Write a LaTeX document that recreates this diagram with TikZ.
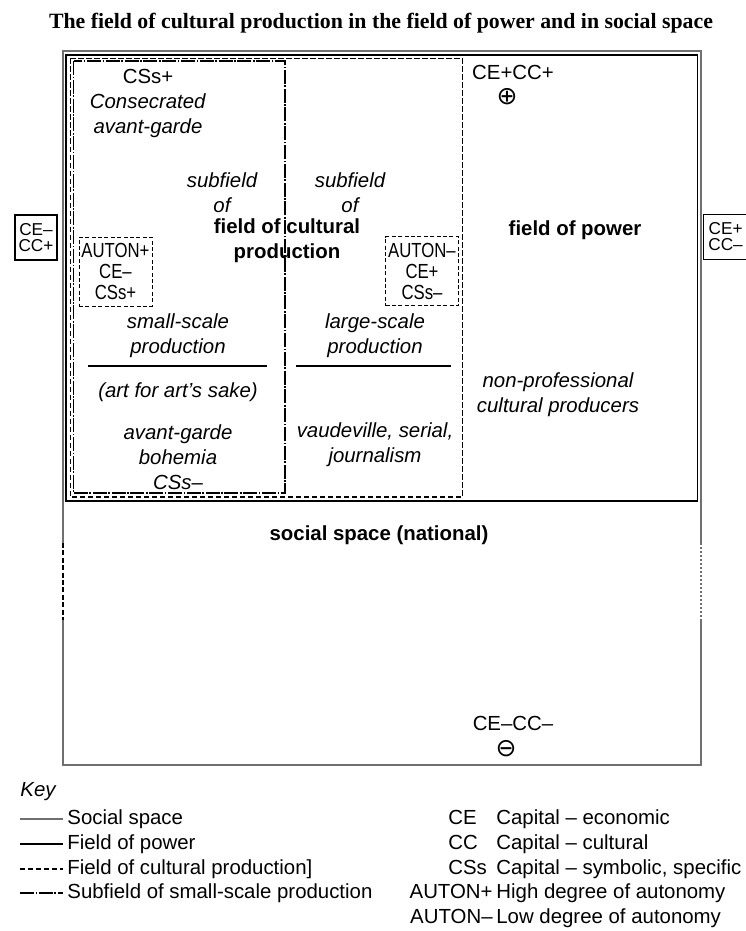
\documentclass[tikz,border=0pt]{standalone}
\usepackage{fontspec}
\setmainfont{Liberation Sans}
\newfontfamily\titlefont{Liberation Serif}
\newfontfamily\condfont[FakeStretch=0.82]{Liberation Sans}
\newfontfamily\symfont{DejaVu Sans}
\usetikzlibrary{positioning}
\definecolor{ssgray}{HTML}{707070}

\begin{document}
\begin{tikzpicture}[x=0.5pt, y=-0.5pt,
    font=\fontsize{10.2}{12.5}\selectfont,
    txt/.style={align=center, inner sep=0pt},
    itx/.style={txt, font=\fontsize{10.2}{12.5}\selectfont\itshape},
    bld/.style={txt, font=\fontsize{10.2}{12.5}\selectfont\bfseries},
    sym/.style={txt, font=\symfont\fontsize{12.5}{12.5}\selectfont},
    keytxt/.style={inner sep=0pt, text height=7.4pt, text depth=2.2pt},
    social/.style={draw=ssgray, line width=1pt},
    power/.style={draw=black, line width=0.75pt},
    cultural/.style={draw=black, line width=0.55pt, dash pattern=on 2.6pt off 1.4pt},
    subfield/.style={draw=black, line width=0.55pt, dash pattern=on 7pt off 0.8pt on 0.8pt off 0.8pt},
    autbox/.style={draw, line width=0.5pt, dash pattern=on 2pt off 1.2pt, inner sep=0pt,
                   minimum width=36.5pt, minimum height=34.5pt, align=center,
                   font=\condfont\fontsize{10.2}{10.5}\selectfont},
    capbox/.style={draw, line width=0.6pt, inner sep=0pt, minimum width=21pt,
                   minimum height=22.5pt, align=center, font=\fontsize{8.6}{8}\selectfont}]
    \useasboundingbox (0,0) rectangle (745,931);
    \node[txt, font=\titlefont\bfseries\fontsize{10.9}{12}\selectfont] (title) at (381,23)
      {The field of cultural production in the field of power and in social space};

    % social space, open on both sides
    \draw[social] (62.5,543) -- (62.5,51.5) -- (701,51.5) -- (701,543);
    \draw[social, draw=black, dash pattern=on 2.5pt off 1.2pt] (62.5,543) -- (62.5,620);
    \draw[social, dash pattern=on 1pt off 1pt] (701,543) -- (701,620);
    \draw[social] (62.5,620) -- (62.5,765) -- (701,765) -- (701,620);
    \draw[power] (66,55) rectangle (697.5,501);
    \draw[cultural] (70.5,58.5) rectangle (462.5,497);
    \draw[subfield] (73.5,61) rectangle (285,493);

    \node[capbox] (celeft) at (36,237.5) {CE–\\CC+};
    \node[capbox, anchor=west, minimum width=22pt] (ceright) at (703,237) {CE+\\CC–};

    \node[txt] (consec) at (148,103) {CSs+\\\textit{Consecrated}\\\textit{avant-garde}};
    \node[itx] (subl) at (222,193) {subfield\\of};
    \node[itx] (subr) at (350,193) {subfield\\of};
    \node[bld] (fcp) at (287,241) {field of cultural\\production};
    \node[bld] (fop) at (575,230) {field of power};
    \node[txt] (cepos) at (513,72) {CE+CC+};
    \node[sym] (plus) at (507,97) {⊕};

    \node[autbox] (autp) at (115.5,271.5) {AUTON+\\CE–\\CSs+};
    \node[autbox] (autm) at (422,271) {AUTON–\\CE+\\CSs–};

    \node[itx] (small) at (178,335.5) {small-scale\\production};
    \node[itx] (large) at (375,335.5) {large-scale\\production};
    \draw[line width=0.7pt] (88,366) -- (267,366);
    \draw[line width=0.7pt] (296,366) -- (451,366);
    \node[itx] (sake) at (178,392) {(art for art’s sake)};
    \node[itx] (bohem) at (178,457) {avant-garde\\bohemia\\CSs–};
    \node[itx] (vaud) at (375,444.5) {vaudeville, serial,\\journalism};
    \node[itx] (nonpro) at (558,394.5) {non-professional\\cultural producers};

    \node[bld] (social) at (379,535) {social space (national)};
    \node[txt] (ceneg) at (513,723) {CE–CC–};
    \node[sym] (minus) at (506,749) {⊖};

    % key
    \node[keytxt, anchor=west, font=\fontsize{10.2}{12.5}\selectfont\itshape] (key) at (20,791) {Key};
    \foreach \sty/\lab/\yy [count=\i] in {social/Social space/819, power/Field of power/844,
        cultural/{Field of cultural production]}/869, subfield/Subfield of small-scale production/893}{
      \node[keytxt, anchor=west] (k\i) at (67,\yy) {\lab};
      \draw[\sty, line width=0.6pt] (20,\yy) -- (63,\yy);
    }
    \foreach \ab/\desc/\yy [count=\i] in {CE/Capital – economic/819, CC/Capital – cultural/844,
        CSs/{Capital – symbolic, specific}/869}{
      \node[keytxt, anchor=west] (ab\i) at (448,\yy) {\ab};
      \node[keytxt, anchor=west] (de\i) at (496,\yy) {\desc};
    }
    \node[keytxt, anchor=east] (abp) at (493,893) {AUTON+};
    \node[keytxt, anchor=west] (dep) at (496,893) {High degree of autonomy};
    \node[keytxt, anchor=east] (abm) at (493,918) {AUTON–};
    \node[keytxt, anchor=west] (dem) at (496,918) {Low degree of autonomy};
\end{tikzpicture}
\end{document}
